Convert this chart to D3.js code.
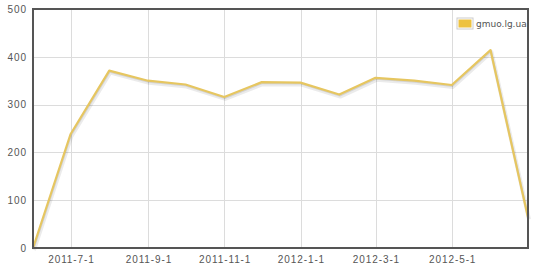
<!DOCTYPE html>
<html>
<head>
<meta charset="utf-8">
<script src="https://cdn.jsdelivr.net/npm/d3@7"></script>
<style>
body{margin:0;background:#fff;}
svg{display:block;font-family:"DejaVu Sans",Verdana,sans-serif;}
</style>
</head>
<body>
<svg id="c" width="550" height="279"></svg>
<script>
const dates = ["2011-6-1","2011-7-1","2011-8-1","2011-9-1","2011-10-1","2011-11-1","2011-12-1","2012-1-1","2012-2-1","2012-3-1","2012-4-1","2012-5-1","2012-6-1","2012-7-1"];
const values = [0,238,371,350,342,316,347,346,321,356,350,341,414,64];
const xTicks = ["2011-7-1","2011-9-1","2011-11-1","2012-1-1","2012-3-1","2012-5-1"];
const yTicks = [0,100,200,300,400,500];
const seriesName = "gmuo.lg.ua";

const parse = d3.timeParse("%Y-%-m-%-d");
const fmt = d => d3.timeFormat("%Y-%-m-%-d")(d);
const data = dates.map((d,i)=>({date:parse(d),v:values[i]}));

const svg = d3.select("#c");
const L=33, R=528, T=9, B=248;
const x = d3.scaleTime().domain(d3.extent(data,d=>d.date)).range([L,R]);
const y = d3.scaleLinear().domain([0,500]).range([B,T]);

// grid
const g = svg.append("g");
g.selectAll(".gx").data(xTicks.map(parse)).enter().append("line")
 .attr("x1",d=>Math.round(x(d))+0.5).attr("x2",d=>Math.round(x(d))+0.5)
 .attr("y1",T).attr("y2",B).attr("stroke","#dcdcdc").attr("stroke-width",1);
g.selectAll(".gy").data(yTicks).enter().append("line")
 .attr("x1",L).attr("x2",R).attr("y1",d=>Math.round(y(d))+0.5).attr("y2",d=>Math.round(y(d))+0.5)
 .attr("stroke","#dcdcdc").attr("stroke-width",1);

// axes labels via d3 axes
const xAxis = d3.axisBottom(x).tickValues(xTicks.map(parse)).tickFormat(fmt).tickSize(0).tickPadding(8);
const xa = svg.append("g").attr("transform",`translate(0,${B})`).call(xAxis);
xa.select(".domain").remove();
xa.selectAll("text").attr("fill","#555").attr("dx","0.45px").style("font-size","10px").style("letter-spacing","0.9px");

const yAxis = d3.axisLeft(y).tickValues(yTicks).tickSize(0).tickPadding(6);
const ya = svg.append("g").attr("transform",`translate(${L},0)`).call(yAxis);
ya.select(".domain").remove();
ya.selectAll("text").attr("fill","#555").style("font-size","10px").style("letter-spacing","0.9px");

// line with shadow
const line = d3.line().x(d=>x(d.date)).y(d=>y(d.v));
svg.append("path").datum(data).attr("d",line).attr("fill","none")
 .attr("stroke","rgba(0,0,0,0.08)").attr("stroke-width",4).attr("transform","translate(1,2)").attr("stroke-linejoin","round");
svg.append("path").datum(data).attr("d",line).attr("fill","none")
 .attr("stroke","rgba(0,0,0,0.1)").attr("stroke-width",2).attr("transform","translate(0.5,1)").attr("stroke-linejoin","round");
svg.append("path").datum(data).attr("d",line).attr("fill","none")
 .attr("stroke","#e6c660").attr("stroke-width",2.2).attr("stroke-linejoin","round");

// border
svg.append("rect").attr("x",L).attr("y",T).attr("width",R-L).attr("height",B-T)
 .attr("fill","none").attr("stroke","#555").attr("stroke-width",2);

// legend
const lg = svg.append("g").attr("transform","translate(457,18)");
lg.append("rect").attr("x",0).attr("y",0).attr("width",16).attr("height",11).attr("fill","#fff").attr("stroke","#ccc").attr("stroke-width",1);
lg.append("rect").attr("x",1.5).attr("y",1.5).attr("width",13).attr("height",8).attr("fill","#edc240");
lg.append("text").attr("x",19).attr("y",9).text(seriesName).attr("fill","#545454").style("font-size","9px");
</script>
</body>
</html>
